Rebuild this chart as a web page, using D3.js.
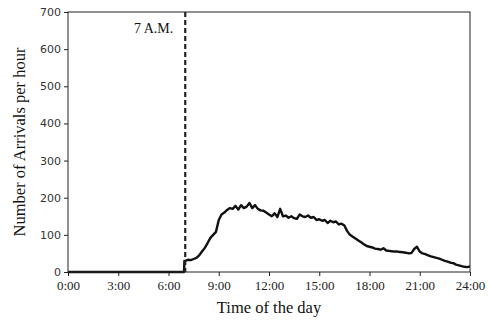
<!DOCTYPE html>
<meta charset="utf-8">
<title>Arrivals per hour</title>
<head>
<style>
body { margin: 0; background: #fff; }
.frame { fill: none; stroke: #222; stroke-width: 1; }
.axis path { display: none; }
.axis line { stroke: #222; }
.axis--y text { font-family: "DejaVu Sans", sans-serif; font-size: 11px; fill: #333; }
.axis--x text { font-family: "Liberation Serif", "Times New Roman", serif; font-size: 13px; fill: #222; }
.label { font-family: "Liberation Serif", "Times New Roman", serif; font-size: 16.5px; fill: #111; }
.line { fill: none; stroke: #111; stroke-width: 2.4px; stroke-linejoin: round; }
</style>
</head>
<body>
<svg width="489" height="321"></svg>
<script src="https://d3js.org/d3.v7.min.js"></script>
<script>
// hours from midnight, arrivals per hour
var startTimes = [0, 6.93, 6.95];
var startValues = [0, 0, 30];
// 10-minute steps from 7:00 to 24:00
var dayValues = [30, 33, 32, 35, 38, 45, 55, 65, 78, 92, 100, 108,
  140, 155, 160, 167, 172, 170, 178, 168, 180, 172, 176, 186,
  172, 180, 170, 166, 165, 160, 155, 150, 158, 148, 170, 150,
  152, 146, 150, 145, 143, 155, 150, 148, 152, 146, 148, 140,
  142, 138, 140, 132, 138, 134, 136, 128, 130, 125, 110, 100,
  95, 90, 85, 80, 75, 70, 68, 66, 63, 62, 60, 64,
  58, 57, 56, 55, 55, 54, 53, 52, 50, 51, 62, 68,
  55, 50, 48, 45, 42, 40, 38, 36, 33, 30, 28, 25,
  24, 20, 18, 16, 14, 13, 15];
var xTicks = [0, 3, 6, 9, 12, 15, 18, 21, 24];
var yTicks = [0, 100, 200, 300, 400, 500, 600, 700];
var markHour = 7;
var markLabel = "7 A.M.";

var data = startTimes.map(function(t, i) { return {t: t, v: startValues[i]}; })
  .concat(dayValues.map(function(v, i) { return {t: 7 + i / 6, v: v}; }));

var svg = d3.select("svg"),
    margin = {top: 12, right: 19, bottom: 49, left: 68},
    width = +svg.attr("width") - margin.left - margin.right,
    height = +svg.attr("height") - margin.top - margin.bottom,
    g = svg.append("g").attr("transform", "translate(" + margin.left + "," + margin.top + ")");

var x = d3.scaleLinear().domain([0, 24]).range([0, width]),
    y = d3.scaleLinear().domain([0, 700]).range([height, 0]);

var line = d3.line()
    .x(function(d) { return x(d.t); })
    .y(function(d) { return y(d.v); });

g.append("g")
    .attr("class", "axis axis--x")
    .attr("transform", "translate(0," + height + ")")
    .call(d3.axisBottom(x).tickValues(xTicks).tickSize(4).tickPadding(5)
      .tickFormat(function(d) { return d + ":00"; }));

g.append("g")
    .attr("class", "axis axis--y")
    .call(d3.axisLeft(y).tickValues(yTicks).tickSize(4).tickPadding(3));

g.append("path")
    .datum(data)
    .attr("class", "line")
    .attr("d", line);

g.append("line")
    .attr("x1", x(markHour)).attr("x2", x(markHour))
    .attr("y1", 0).attr("y2", height)
    .attr("stroke", "#222")
    .attr("stroke-width", 2.2)
    .attr("stroke-dasharray", "5,3");

g.append("text")
    .attr("class", "label")
    .style("font-size", "14px")
    .attr("x", x(markHour) - 12)
    .attr("y", 21)
    .attr("text-anchor", "end")
    .text(markLabel);

g.append("rect")
    .attr("class", "frame")
    .attr("width", width)
    .attr("height", height);

svg.append("text")
    .attr("class", "label")
    .attr("x", margin.left + width / 2)
    .attr("y", 313)
    .attr("text-anchor", "middle")
    .text("Time of the day");

svg.append("text")
    .attr("class", "label")
    .attr("transform", "translate(25," + (margin.top + height / 2) + ") rotate(-90)")
    .attr("text-anchor", "middle")
    .text("Number of Arrivals per hour");
</script>
</body>
